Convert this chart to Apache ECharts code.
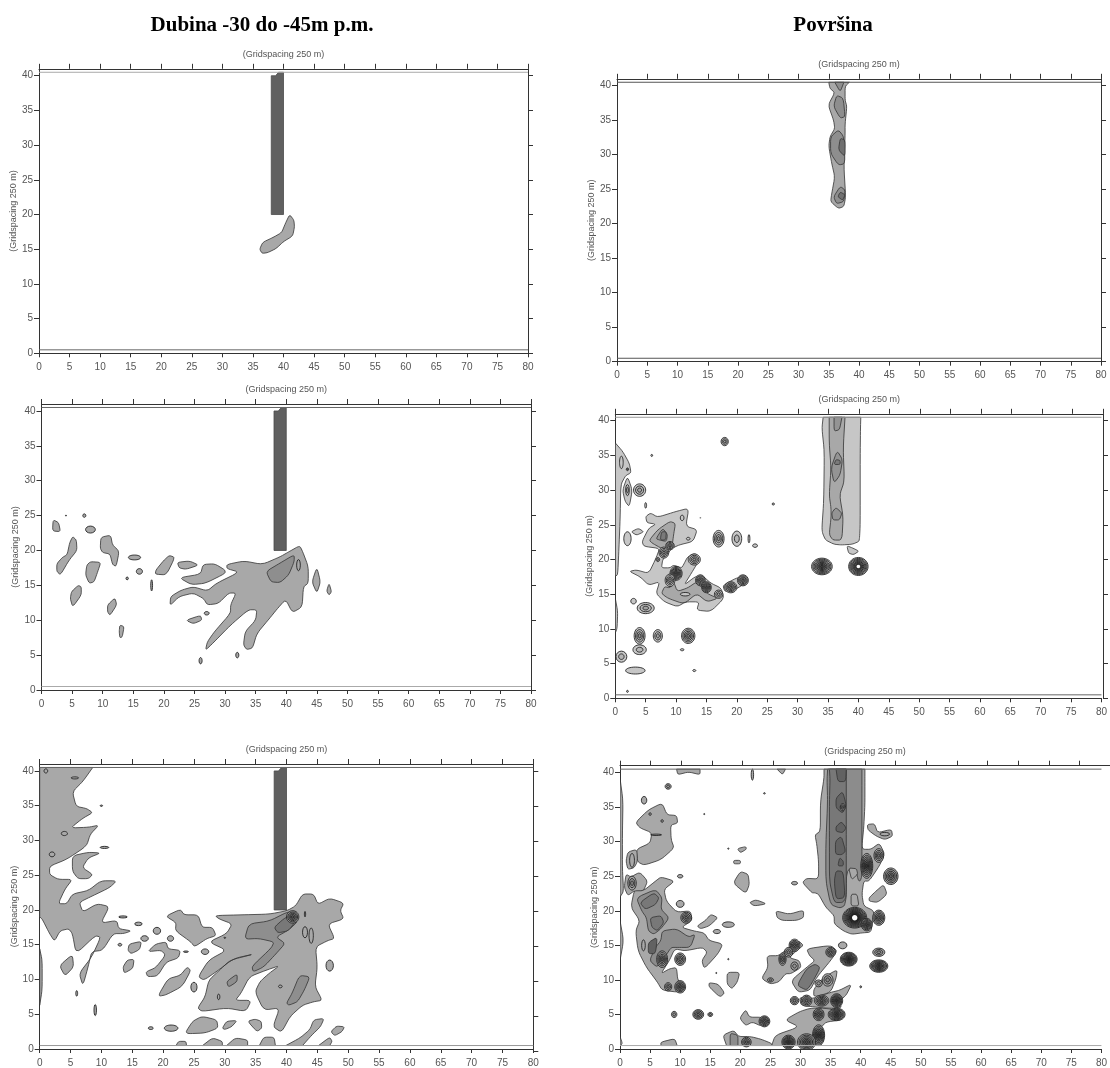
<!DOCTYPE html>
<html><head><meta charset="utf-8">
<style>html,body{margin:0;padding:0;background:#fff;overflow:hidden}#c{width:1110px;height:1068px}</style>
<script src="https://cdn.jsdelivr.net/npm/echarts@6/dist/echarts.min.js"></script>
</head><body><div id="c"></div>
<script>
const xTicks=[0,5,10,15,20,25,30,35,40,45,50,55,60,65,70,75,80];
const yTicks=[0,5,10,15,20,25,30,35,40];
const axisName='(Gridspacing 250 m)';
const titleLeft='Dubina -30 do -45m p.m.';
const titleRight='Površina';
const wellBar=[38,20,40,20,40,40.5,39.2,40.5,38.7,40,38,40];

// each polygon: flat x,y list in grid units; peaks: x,y,rx,ry,rings
const p1L1=[[41,20,41.7,19.2,41.8,18.2,41.5,16.9,40,16.1,38.8,15.1,37.4,14.5,36.5,14.4,36.1,15,36.6,16,38.3,16.7,39.7,17.4,40.3,18.7]];
const p1Peaks=[];

const p2L1=[
[1.9,24.4,2.8,24,3.1,22.7,1.8,22.8],
[5.1,22,5.7,21.5,5.8,20,4.5,18.6,3.1,16.5,2.5,17,2.5,18.1,3.4,19,4.2,19.4,4.6,21.1],
[9.7,21.9,11.3,22.2,11.6,20.8,12.7,19.9,12.2,17.7,11.6,18,11.2,19.5,10,19.7,9.6,20.3],
[8,18.4,9.7,18.3,9.2,17,8.6,15.5,7.8,15.3,7.2,16.5,7.4,17.9],
[6,15,6.5,14.8,6.5,13.6,5.1,11.9,4.7,13.1,4.9,14.1],
[10.8,12.2,12,13.2,12.3,12.2,11.2,10.7,10.8,11.2],
[12.8,9.3,13.5,9.1,13.2,7.6,12.8,7.5,12.7,8.4],
[20,18.6,20.9,19.3,21.8,19,20.4,16.5,18.6,16.6,18.7,17.2],
[22.2,18.3,24.2,18.5,25.7,17.9,23.6,17.3,22.5,17.5],
[22.5,16.1,26,16.6,26.4,18,28.3,18.1,30,17.2,30,16.7,26.8,15.3,24.5,15.1],
[30.3,18,33.1,18.5,36.1,18,39,19.1,40.4,19.8,42.2,20.7,42.7,19.8,43.6,17.7,43.6,15.3,42.8,14.8,42.6,11.9,41,11.1,39.9,13,38.4,11.5,37.3,10.3,35.2,8.1,34.5,6,33.5,5.8,33,6.5,33.3,8.4,35,10,35.2,11.5,33.8,11.5,30.9,9.3,28,6.7,26.8,5.7,27.1,6.9,28.3,8.4,30.9,11,30.9,12.2,31.8,13.9,30.6,13.9,28.9,12.4,27.1,12.2,26.5,13.1,24.8,13.9,22.5,13.4,21,12.1,21.1,13.4,22.8,14.3,24.8,14.8,27.1,14.2,28.6,15.3,32.3,16.9,30.3,17.4],
[45,17.6,45.6,15.5,45,13.9,44.2,15.5],
[47,15.3,47.4,14.1,47,13.6,46.6,14.2],
[23.6,10,26,10.7,26.2,10,24.8,9.5]];
const p2L2=[[36.7,17,39,18.2,41.3,19.4,41.3,18.4,40.4,16.5,39,15.4,37.5,15.5]];
const p2Peaks=[[4,25,.08,.08,0],[7,25,.25,.25,0],[8,23,.8,.5,0],[14,16,.2,.2,0],[16,17,.5,.4,0],[15.2,19,1,.35,0],[18,15,.15,.8,0],[27,11,.4,.25,0],[26,4.2,.25,.45,0],[32,5,.25,.4,0],[42,17.9,.3,.8,0]];

const p3L1=[
[0,40.5,8.6,40.5,7,38.5,5.3,37,5.9,34.9,7.6,34.6,8.6,34,7,33.2,5,31.8,7.9,31.9,9.6,32.2,8.2,30.9,7.6,29.2,4.4,27.3,1.6,26.3,1.6,25.1,3,24.4,5.3,24.4,4.1,23,3,20.9,4.4,20.9,5.3,22.3,7.9,22.8,9.9,24.2,12.5,24.2,11.3,23.2,8.5,22,6.4,21.1,7,19.7,9.3,20.9,11.3,20.5,9.9,18.1,12.5,18.5,12.8,17.3,14.9,17,13.6,16.6,11.9,16.6,10.2,14.2,8.4,14,7.9,12,7,9.1,6.4,10.9,8.4,13.2,9.9,16.1,9,16.3,5.9,13.7,5.3,16.6,4.7,17.3,3.3,17,2.4,15.5,1.6,16.6,.4,18.7,0,19],
[0,14.4,.4,12.8,.4,8.5,0,6.3],
[5.3,27.8,7.9,28.3,9.9,28.2,7.9,27.5,6.9,26.1,8.6,25.1,7.9,24.5,6.2,24.5,5.3,25.6],
[14.5,15.1,16.5,15.5,16.2,14.3,14.8,13.7,14.3,14.2],
[3.2,12,5.3,13.6,5.5,11.8,4.1,10.5],
[14.2,12.8,15.3,12.9,15.1,11.6,13.7,10.9,13.5,11.8],
[17.5,14,18.8,15.1,20.5,15.4,20.8,14.4,22.8,14.2,22.5,13.1,20.5,12.5,19.1,10.5,17.5,10.4,17.2,11.1,18.8,11.7,20.4,13.5,19.7,14.2],
[19.4,8,20.8,10.1,22.8,10.6,23.9,11.8,24.5,11.3,23.1,9,20.5,7.8,19.4,7.6],
[20.4,19.1,22.8,20.1,23.4,19.3,25.7,19.3,26.3,17.5,28,17.5,28.6,16.3,27.1,15.9,25.1,14.7,24.5,15.4,22,17,22.1,18.2],
[28.4,19.2,32.6,19.3,37.2,19.4,40.1,19.9,41.5,20.6,42.6,22.3,44.4,22.3,45.1,20.8,47,21.7,49.3,21,48.7,19.9,49.3,18.7,46.7,18,47.8,15.9,46.7,15.6,44.7,14.7,45,11.8,44.6,9,45.8,7,44.4,6.8,42.6,6.3,40.6,4.7,39.2,2.4,37.8,3.2,38.9,5.9,36.3,5.6,34.9,8.2,35.7,9.7,37.2,10.9,38.9,12,36.6,11.3,34,10.4,32.6,8,31.7,7,34.3,7,33.4,5.4,30.3,5.9,26.3,5.4,25.6,5.9,26.8,7.5,27.4,9.9,29.1,11.3,30.9,12.8,34.9,13.7,31.4,13,28.6,11.1,26.6,9.9,25.7,10.4,27.4,12.8,30.3,14.2,27.4,15.4,30.3,16.6,31.2,18,29.1,18.7],
[23.7,2.5,24.8,4,26.3,4.7,28.7,4.2,28.9,3,26.8,2.3,24,2.2],
[29.6,3,30.3,4,32,4.1,31.1,3.2,30,2.8],
[33.7,4,34.9,4.3,35.9,4,36,3,35.2,2.5],
[39.9,.5,42.2,1.6,43.8,2.8,44.4,4.2,46.1,4.4,45.5,3.2,44.1,2,42.6,.5],
[47.2,2.5,48.1,3.3,49.4,3.2,49,2.5,47.8,1.9],
[22.1,.5,22.5,1.1,23.7,1.1,23.8,.5],
[26.4,.5,28,1.6,29.6,1.1,29.6,.5],
[30.3,.5,31.7,1.6,33.7,1.3,33.7,.5],
[35.6,.5,36.3,1.7,38,1.7,38.2,.5],
[45.2,.5,47,1.7,47.4,1.1,47,.5]];
const p3L2=[
[33.9,18,37.2,18.4,40.1,19.7,41.5,19.7,41.8,18.3,40.3,17.1,38.3,16.1,39.8,15.2,38.3,13.7,36.3,11.8,34.6,11.1,34.4,11.9,37.5,14.5,38,15.4,35.5,15.9,33.2,15.8],
[30.3,9.7,32,10.8,32,9.7,30.6,8.9],
[40,6.6,40.9,8,42.1,10.6,43.8,10.4,42.9,8.5,41.8,6.8,40.4,6.3]];
const p3L3=[[38,17.5,39.5,18.7,40.9,19.4,41.5,18.4,40.3,17,38.6,16.7]];
const p3Peaks=[[1,40,.3,.3,0],[5.7,39,.6,.15,0],[4,31,.5,.3,0],[2,28,.45,.35,0],[10,35,.2,.1,0],[10.5,29,.7,.15,0],[13.5,19,.7,.15,0],[16,18,.6,.25,0],[13,15,.3,.2,0],[17,15.9,.6,.4,0],[19,17,.6,.5,0],[21.2,15.9,.5,.4,0],[23.7,14,.4,.1,0],[26.8,14,.6,.4,0],[25,8.9,.5,.7,0],[29,7.5,.2,.4,0],[39,9,.3,.2,0],[43,16.8,.4,.8,0],[44,16.3,.35,1.1,0],[43,19.4,.1,.4,0],[47,12,.6,.8,0],[30,16,.15,.08,0],[6,8,.15,.4,0],[9,5.6,.2,.8,0],[18,3,.4,.2,0],[21.3,3,1.1,.45,0],[41,19,1,.9,4]];

const p4L1=[[35,40.5,35.2,39.6,36,39,34.9,37.2,35.8,35,36,33.8,35.2,32.6,35,31.2,35.5,28.7,36,26.8,35.5,24.4,35.3,23.2,36.6,22.2,37.5,22.5,37.8,23.9,37.5,28.3,37.7,32.6,37.7,34.5,38,37,37.7,37.9,37.7,39.9,38.4,40.5]];
const p4L2=[[36.3,38.6,37.4,38.2,37.7,35.5,36.9,35.3,35.8,37],[36.6,33.6,37.5,32.6,37.7,28.7,36.6,28.5,35.3,30.2,35.3,32.6],[36.9,25.4,37.7,24.9,37.5,23.2,36.3,22.9,35.8,23.9],[36,40.5,37.5,40.5,36.9,39.1]];
const p4L3=[[36.9,32.4,37.7,32.1,37.7,29.7,36.6,30.7],[36.9,24.6,37.7,24.2,37.3,23.4,36.5,23.9]];
const p4Peaks=[];

const p5L1=[
[34.2,40.5,40.4,40.5,40.35,39,40.3,35,40.3,25,40.2,23.2,40.1,22.6,39,22.2,37.2,22.1,36,22.2,34.6,22.8,34.1,23.8,34,24.6,34.3,28.4,34.4,35.6,34,38.9],
[38.1,22,39.2,21.6,40.1,21.2,39.2,20.7,38.4,20.9],
[0,36.8,1.2,35.6,2.3,33.9,2.6,32.5,1.7,32.1,.9,30.8,.8,26,.6,21.6,.4,17.8,0,17.6],
[2,32,2.8,30,2.3,27.6,1.6,28.4,1.2,30],
[5,26.2,5.8,26.7,7,26.1,9.9,26.9,12.1,27.4,11.6,24.8,13.5,24.3,12.8,22.6,10.5,22.1,9.3,21.6,8.7,20.9,7.8,20,7.6,18.8,9,18.8,9.6,19.2,10.9,18.8,11.2,19.2,11.9,20.4,13.1,20.9,14,20.2,12.5,18,11.3,16.3,13.1,17.5,14.2,17.8,15.7,16.6,17.4,15.9,17.9,14.4,15.7,12.5,13.4,12.7,13.8,13.9,11.6,13.9,10.2,13.2,8.1,13.9,6.7,15.1,7.3,16.8,5.5,16.3,4.1,17.5,2.3,18.3,3.5,18.5,5.5,18,6.7,20.2,7.3,21.6,4.7,21.9,4.4,22.6,5.5,24.5,6.7,25.1,5.2,25.3],
[17.7,16.3,20.3,17.5,21.8,17,20.9,16.3,19.2,15.4,18,15.4],
[2.6,24,3.8,24.5,4.7,24,3.5,23.5],
[0,14.4,.4,12.5,.3,10.1,0,9.4]];
const p5L2=[
[35.2,40.5,37.8,40.5,37.5,36,37.7,31.3,36.9,29.3,37.5,26.2,37.3,22.8,35.8,22.8,35.2,23.6,35.5,26,35.5,27.4,35.2,29.3,35.5,33.2,35.2,36.8],
[5.6,22.8,7,24.3,9,25.5,9.9,25.2,9.6,23.6,9.3,21.6,7.6,21.6,6,22.4],
[8.1,16.1,9,15.9,9.6,16.8,10.2,15.4,11.9,15.9,13.4,16.8,15.1,15.1,16.9,14.4,15.1,13.9,13.4,15.1,11.3,13.6,8.7,14.4,7.6,15.1]];
const p5L3=[
[36,40.5,37.3,40.5,36.9,38.7,36,38.5],
[36.5,35.7,37.4,34.4,37,32.2,36,31,35.5,33.2],
[36.3,27.5,37.3,26.7,36.9,25.7,35.8,25.7,35.6,26.7],
[6.7,23,7.8,24.5,8.6,23.6,8.4,22.6,7.3,22.8]];
const p5L4=[[36.3,34.4,37,34.3,37,33.7,36,33.7],[7.6,24,8.4,24,8.3,22.8,7.4,22.8]];
const p5Peaks=[[34,19,1.7,1.2,7],[40,19,1.6,1.3,8],[18,37,.6,.6,2],[6,35,.15,.15,0],[26,28,.2,.15,0],[14,26,.05,.05,0],[2,1,.15,.15,0],[11,7,.3,.15,0],[13,4,.25,.15,0],[4,30,1,.9,2],[2,33,.2,.2,1],[1,34,.3,.9,0],[2,30,.3,.8,1],[5,27.8,.15,.4,0],[8,21,.8,.8,3],[9,22,.7,.6,3],[7,20,.3,.3,1],[12,23,.3,.2,0],[11,26,.3,.4,0],[10,18,1,1,6],[9,17,.8,.9,3],[14,17,.8,.8,4],[15,16,.8,.8,5],[19,16,1,.8,4],[21,17,.9,.8,4],[17,15,.7,.6,2],[13,20,1,.8,3],[11.5,15,.8,.25,0],[17,23,.9,1.2,3],[20,23,.8,1.1,1],[22,23,.15,.6,0],[23,22,.4,.25,0],[2,23,.6,1,0],[3,14,.45,.4,0],[5,13,1.4,.8,2],[4,9,.9,1.2,3],[7,9,.75,.9,2],[12,9,1.1,1.1,4],[4,7,1.1,.7,1],[1,6,.9,.8,1],[3.3,4,1.6,.5,0]];
const p5Cores=[[40,19,.3,.25]];

const p6L1=[
[33.9,40.5,40.7,40.5,40.7,39,40.7,35.3,40.5,32,40.2,29.4,40.4,28.9,41.7,28.9,43.1,29.8,44,28.2,43.1,26.5,41.4,24.3,40.5,24.3,40.2,22.4,40.5,20.7,42.2,20,42,18.6,41.7,16.9,40.2,16.8,38.5,16.6,37.1,17.1,35.6,18.1,35.6,19.3,34.2,20.5,33,22.4,32.4,22.6,31.9,22.6,30.3,24.1,31,24.7,33,24.6,33,27.2,32.7,29.6,32.4,31,33.3,31.5,33.3,35.8,33.9,39.2],
[41.1,32.5,42.3,32.6,42.8,31.3,45.1,31.8,45.3,30.8,44,30.3,42.6,30.8,41.2,31.7],
[41.4,21.9,42.6,22.9,43.8,23.8,44.4,22.4,42.8,21.2,41.4,21.4],
[2.4,23.1,3.9,22.9,5.9,24.3,6.8,24.9,9.1,24.3,7.3,23.1,7.7,21.4,9.4,19.8,11.7,20,12,18.6,10.2,17.6,12.2,17.1,14,16.8,14.8,15.7,17.1,15.2,16.3,13.8,14,11.6,13.6,12.8,14.5,14,13.7,14.7,10.8,14.2,9.1,14.5,8.2,12.8,6.8,10.9,8.2,11.6,9.4,11.8,9.6,9.9,10.9,9,9.9,8.2,7,8.5,6.2,9.7,4.4,11.8,3,14.2,2.6,17.1,3.3,18.6,1.8,20.5],
[2.6,32.8,4.7,34.6,7,35.6,7.8,33.9,9.4,33.8,9.6,32.7,8.4,32.4,8.5,30.3,9,29.1,6.8,27.4,4,26.6,2.9,27.1,2.7,28.9,5,29.8,5.3,31.3,3.3,32],
[1.3,28.5,2.8,28.9,2.9,27.1,2.3,26.2,1.3,26,1,27.2],
[1,25.3,1.8,24.9,3.3,25.6,4.6,24.3,3.9,22.9,2.4,22.9,1.3,22.2,.7,23.4],
[0,39.2,.5,36,.4,31,.4,26,.6,22.8,0,22],
[0,18.6,.6,15.7,0,12.8],
[0,1.8,.4,.8,0,.4],
[9.4,40.5,9.6,39.7,11.4,40.1,13.3,39.7,13.3,40.5],
[26.1,40.5,27.5,40.5,27,39.7],
[19.5,29,20.9,29.3,21,28.9,20,28.4],
[18.9,27.3,20,27.3,20,26.8,18.9,26.8],
[18.8,24,20,25.7,21.3,25.3,21.5,23.8,20.9,22.5],
[21.5,21.2,22.6,21.6,24.4,21,22.3,20.7],
[25.9,20,28.1,19.5,30.5,20.1,30.5,19,29.3,18.6,27,18.6,26.1,19],
[12.8,17.8,14.2,18.6,15.1,19.5,16.3,19,14.8,17.8,13.4,17.4],
[24.4,13.5,26.4,13.5,27.8,14.5,29.6,15.7,30.5,15,29.3,14.2,28.1,13.2,29.8,12.8,30.1,11.8,28.4,10.9,27.5,10.9,26.4,9.7,25,9.4,23.5,10.2,24.6,11.8],
[31,14.5,35,15,36.1,14.2,35,12.8,32.7,10.4,31.6,8.5,29.6,8.2,28.4,9.9,31,11.8,32.4,12.8,31.5,13.5],
[32.2,8.7,33.9,10.4,36.1,11.5,35.9,10.2,35,8.2,32.2,7.5],
[32.2,7.3,35,8.2,36.5,8.5,38.5,9.4,37.6,7.8,36.5,7,36.8,5.9,34.5,5.9,32.2,6.1,30.1,6.3,29.8,7.5],
[27.4,4.2,29.8,5.4,31.6,5.9,33.9,5.9,36.8,5.6,36.8,4.2,34.2,3.9,33.3,3,33.9,1.3,33.3,.5,25.2,.5,25.8,2,29.8,3.2],
[17.1,2,18.9,2.7,19.7,1.8,21.7,1.8,23.5,1.4,25.2,.8,25.2,.5,17.7,.5],
[6.8,.5,6.8,1,9.1,1.5,9.5,.5],
[20,4.6,20.9,5.7,21.5,4.6,23.5,4.6,24.7,4.2,23.5,3.3,22,3.9,20.9,3.4,20.1,4.2],
[14.8,9.6,16.3,9.4,17.4,8.1,16.6,7.5,14.8,9],
[17.8,11.1,19.9,11.1,19.5,9.7,18.6,8.7,17.8,9.4]];
const p6L2=[
[34.5,40.5,40.2,40.5,40.2,38,40.2,30,40.2,25,39.9,24.3,39.6,24.4,39.2,25.9,37.9,26,37.6,24.8,37.6,22,37.3,20.7,36.5,20.4,35,20.9,34.2,24.3,34.2,29.6,34.5,35.8,34.4,39],
[2.7,21.9,5.9,23.1,7,21.9,6.8,20.2,8.2,19,6.8,17.4,5.6,16.6,4.7,17.1,4.4,19,3.6,20],
[7,17.1,9.4,17.4,11.4,16.2,12.5,16.6,11.7,14.7,9.6,14.7,8.5,14.7,7.6,13.5,6.2,11.8,4.9,12.8,5.9,14.7,6.8,15.7],
[18.3,.5,18.3,2.3,19.6,2,19.6,.5]];
const p6L1b=[[38,26.2,39.3,26.1,39.5,25.3,38.5,24.5],[38.4,22.4,39.4,22.4,39.7,20.7,38.4,20.7]];
const p6L3=[
[34.8,40.5,37.6,40.5,37.6,39,37.6,30,37.6,23,37.5,21.8,37,21.2,35.6,21.2,34.8,24.3,34.8,30,34.8,35.8,34.9,39],
[3.3,21.2,5.6,22.6,6.5,21.9,5.9,20.9,4.2,20.2],
[5,19,6.8,19.3,7.3,18.3,6.2,17.1,5.3,17.6],
[29.4,9.2,31,11.6,32.4,12.3,33.3,11.8,31.8,9.4,31,8.5]];
const p6L4=[
[35.9,40.5,37.6,40.5,37.5,38.7,36.2,38.7],
[35.9,36.3,37,37.3,37.6,35.3,37,34.1,35.9,34.9],
[35.9,32.2,36.8,32.9,37.6,32,37,31.3,35.9,31.5],
[35.8,30.1,36.8,30.8,37.5,28.6,36.8,28.1,35.8,28.2],
[36.5,27.7,37.1,27.2,37.1,26.5,36.2,26.5],
[35.9,25.8,37.1,25.7,37.4,21.9,35.9,21.7,35.6,24.3],
[4.7,15.4,6.2,16.2,5.9,13.8,4.7,13.8]];
const p6Peaks=[[39,19,2,1.5,10],[41,18,.9,.9,5],[43,19,1,1.1,4],[41,26.5,1,1.8,6],[43,28,.8,1,3],[38,13,1.4,1,7],[36,7,1,1,6],[36,5,1.4,.9,6],[33,5,.9,.9,4],[33,2,1,1.5,6],[28,1,1.1,1,6],[31,1,1.5,1.2,5],[43,12,1.5,.9,6],[43,14,1,.6,2],[45,25,1.2,1.2,4],[24,4,.9,.8,4],[21,1,.8,.7,3],[13,5,.9,.7,3],[15,5,.4,.3,1],[9,5,.45,.45,1],[10,9,.9,.9,4],[8,9,.6,.6,2],[7,13,.9,1.2,4],[10,13,.9,.9,3],[11,19,.9,.8,3],[8,38,.5,.4,1],[29,15,.9,.9,4],[29,7,.7,.6,2],[31,7,.9,.8,3],[33.5,7,1.2,.8,4],[35,14,.8,.7,3],[4,36,.45,.55,0],[22,39.7,.2,.8,0],[24,37,.15,.1,0],[14,34,.1,.08,0],[18,29,.1,.1,0],[18,13,.1,.1,0],[16,11,.1,.08,0],[40,9,.15,.15,0],[29,24,.5,.25,0],[10,25,.45,.25,0],[10,21,.65,.5,0],[18,18,1,.4,0],[16.1,17,.6,.3,0],[37,15,.7,.5,0],[44,31.1,.8,.25,0],[6,31,.9,.1,0],[5,34,.2,.2,0],[7,33,.2,.2,0],[2,27.3,.4,1,0],[2,24,.7,1,2],[3.9,15,.3,.8,0],[28,14,.7,.7,2],[27,13,.6,.9,3],[25,10,.5,.3,1],[29,12,.6,.6,1],[34.5,10,.9,.9,2],[33,9.5,.6,.5,1],[37,35,.4,.5,2]];
const p6Cores=[[39,19,.45,.4]];

const panels=[
 {box:[39,68.8,489,284.5],well:true,upper:'#aaaaaa',lower:'#666666',fills:['#a8a8a8'],polys:[p1L1],peaks:p1Peaks,cores:[]},
 {box:[41.5,404,489.5,286],well:true,upper:'#666666',lower:'#aaaaaa',fills:['#a8a8a8','#8e8e8e'],polys:[p2L1,p2L2],peaks:p2Peaks,cores:[]},
 {box:[39.7,764,493.6,287],well:true,upper:'#666666',lower:'#999999',fills:['#a8a8a8','#8e8e8e','#787878'],polys:[p3L1,p3L2,p3L3],peaks:p3Peaks,cores:[]},
 {box:[617,78.8,484,282.9],well:false,upper:'#555555',lower:'#555555',fills:['#a8a8a8','#8e8e8e','#707070'],polys:[p4L1,p4L2,p4L3],peaks:p4Peaks,cores:[]},
 {box:[615.3,413.8,487.7,284.5],well:false,upper:'#999999',lower:'#666666',fills:['#c6c6c6','#a8a8a8','#949494','#7a7a7a'],polys:[p5L1,p5L2,p5L3,p5L4],peaks:p5Peaks,cores:p5Cores},
 {box:[620,765.7,490.7,285],well:false,upper:'#666666',lower:'#aaaaaa',fills:['#a8a8a8','#8c8c8c','#787878','#626262'],polys:[p6L1,p6L2,p6L3,p6L4],extra:p6L1b,peaks:p6Peaks,cores:p6Cores}
];

const FONT='Liberation Sans';
const AX='#333333', TXT='#555555';
// corner-rounding of an outline in pixel space; vertices on the frame stay put
function roundOutline(points,fixed,passes){
 let cur=points.map((p,i)=>({p,f:fixed[i]}));
 for(let it=0;it<passes;it++){
  const next=[];
  cur.forEach((v,i)=>{
   if(v.f){next.push(v);return;}
   const a=cur[(i-1+cur.length)%cur.length].p,b=cur[(i+1)%cur.length].p,t=.17;
   next.push({p:[v.p[0]+t*(a[0]-v.p[0]),v.p[1]+t*(a[1]-v.p[1])],f:false});
   next.push({p:[v.p[0]+t*(b[0]-v.p[0]),v.p[1]+t*(b[1]-v.p[1])],f:false});
  });
  cur=next;
 }
 return cur.map(v=>v.p);
}
function polySeries(list,fill,i,passes,stroke){
 return {type:'custom',xAxisIndex:i*2,yAxisIndex:i*2,silent:true,clip:true,
  data:list.map((p,k)=>[p[0],p[1],k]),encode:{x:0,y:1},
  renderItem:(params,api)=>{
   const pts=list[api.value(2)],out=[],fx=[];
   for(let j=0;j<pts.length;j+=2){
    out.push(api.coord([pts[j],pts[j+1]]));
    fx.push(pts[j]===0||pts[j+1]===40.5||pts[j+1]===.5);
   }
   return {type:'polygon',shape:{points:roundOutline(out,fx,passes)},style:{fill:fill,stroke:stroke,lineWidth:.8}};
  }};
}
function peakSeries(list,base,i){
 return {type:'custom',xAxisIndex:i*2,yAxisIndex:i*2,silent:true,clip:true,
  data:list.map((p,k)=>[p[0],p[1],k]),encode:{x:0,y:1},
  renderItem:(params,api)=>{
   const p=list[api.value(2)],c=api.coord([p[0],p[1]]),n=p[4],kids=[];
   const rx=api.size([p[2],0])[0],ry=api.size([0,p[3]])[1];
   for(let r=0;r<=n;r++){
    const f=(n+1-r)/(n+1),g=Math.max(30,base-r*18);
    kids.push({type:'ellipse',shape:{cx:c[0],cy:c[1],rx:rx*f,ry:ry*f},
     style:{fill:`rgb(${g},${g},${g})`,stroke:'#1c1c1c',lineWidth:.85}});
   }
   return {type:'group',children:kids};
  }};
}
function coreSeries(list,i){
 return {type:'custom',xAxisIndex:i*2,yAxisIndex:i*2,silent:true,
  data:list.map((p,k)=>[p[0],p[1],k]),encode:{x:0,y:1},
  renderItem:(params,api)=>{
   const p=list[api.value(2)],c=api.coord([p[0],p[1]]);
   return {type:'ellipse',shape:{cx:c[0],cy:c[1],rx:api.size([p[2],0])[0],ry:api.size([0,p[3]])[1]},style:{fill:'#ffffff'}};
  }};
}
const grids=[],xAxes=[],yAxes=[],series=[];
const axisFont={color:TXT,fontFamily:FONT,fontSize:10};
const nameFont={color:TXT,fontFamily:FONT,fontSize:9};
panels.forEach((P,i)=>{
 const g=grids.length;
 grids.push({left:P.box[0],top:P.box[1],width:P.box[2],height:P.box[3],containLabel:false});
 grids.push({left:P.box[0],top:P.box[1],width:P.box[2],height:P.box[3],containLabel:false});
 const line={show:true,onZero:false,lineStyle:{color:AX,width:1}};
 const tick=(len)=>({show:true,length:len,lineStyle:{color:AX,width:1}});
 xAxes.push({gridIndex:g,type:'value',position:'bottom',min:0,max:80,splitLine:{show:false},axisLine:line,
  axisTick:{...tick(4),customValues:xTicks},
  axisLabel:{...axisFont,margin:9,customValues:xTicks,hideOverlap:false}});
 yAxes.push({gridIndex:g,type:'value',position:'left',min:0,max:41,splitLine:{show:false},axisLine:line,
  axisTick:{...tick(5),customValues:yTicks},
  axisLabel:{...axisFont,margin:6,customValues:yTicks},
  name:axisName,nameLocation:'middle',nameRotate:90,nameGap:18,nameTextStyle:nameFont});
 xAxes.push({gridIndex:g+1,type:'value',position:'top',min:0,max:80,splitLine:{show:false},axisLine:line,
  axisTick:{...tick(5),customValues:xTicks},axisLabel:{show:false},
  name:axisName,nameLocation:'middle',nameGap:10,nameTextStyle:nameFont});
 yAxes.push({gridIndex:g+1,type:'value',position:'right',min:0,max:41,splitLine:{show:false},axisLine:line,
  axisTick:{...tick(5),customValues:yTicks},axisLabel:{show:false}});
 P.polys.forEach((lv,k)=>series.push(polySeries(lv,P.fills[k],i,2,'#333333')));
 if(P.extra)series.push(polySeries(P.extra,P.fills[0],i,1,'#333333'));
 if(P.peaks.length)series.push(peakSeries(P.peaks,parseInt(P.fills[0].slice(1,3),16),i));
 if(P.cores.length)series.push(coreSeries(P.cores,i));
 if(P.well)series.push(polySeries([wellBar],'#606060',i,0,'#4a4a4a'));
 [[40.5,P.upper],[0.5,P.lower]].forEach(([v,c])=>series.push({type:'line',xAxisIndex:i*2,yAxisIndex:i*2,silent:true,symbol:'none',
   data:[[0,v],[80,v]],lineStyle:{color:c,width:1},z:5}));
});
const chart=echarts.init(document.getElementById('c'),null,{renderer:'canvas'});
const titleStyle={fontFamily:'Liberation Serif',fontWeight:'bold',fontSize:21,color:'#000'};
chart.setOption({
 animation:false,backgroundColor:'#ffffff',
 title:[
  {text:titleLeft,left:257,top:10,textAlign:'center',textStyle:titleStyle},
  {text:titleRight,left:828,top:10,textAlign:'center',textStyle:titleStyle}],
 grid:grids,xAxis:xAxes,yAxis:yAxes,series:series
});
</script></body></html>
